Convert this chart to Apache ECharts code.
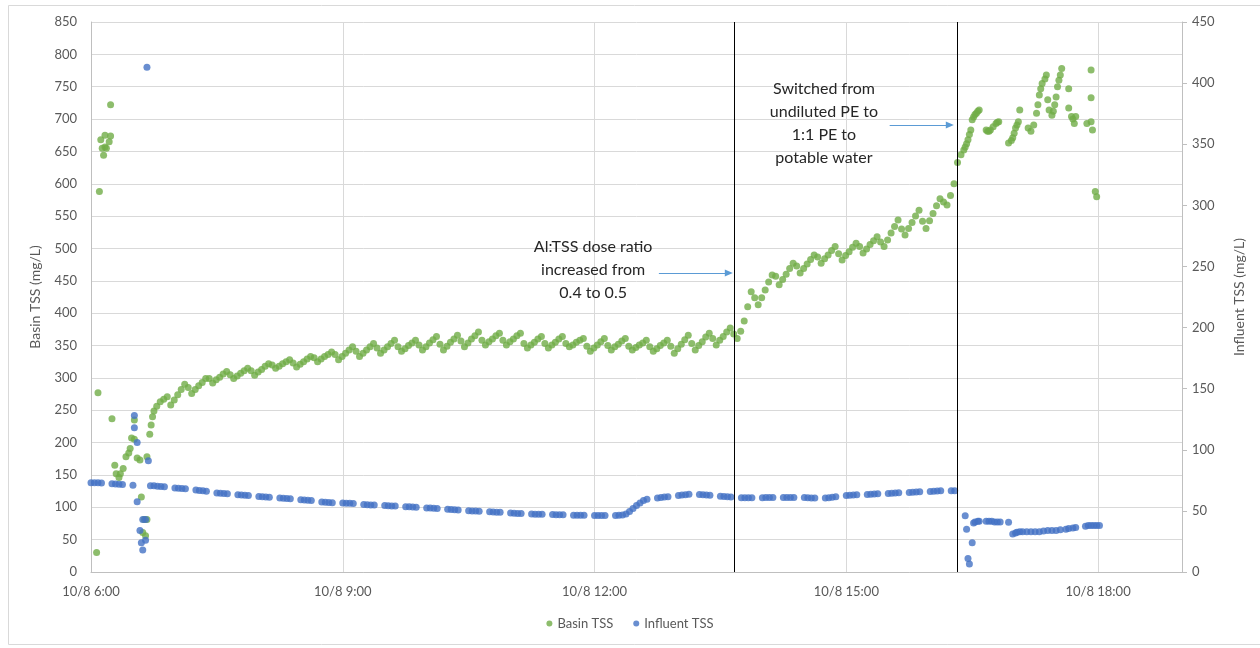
<!DOCTYPE html>
<html>
<head>
<meta charset="utf-8">
<script src="https://cdn.jsdelivr.net/npm/echarts@6/dist/echarts.min.js"></script>
<style>
  html, body { margin: 0; padding: 0; background: #ffffff; }
  #chart { width: 1260px; height: 648px; }
</style>
</head>
<body>
<div id="chart"></div>
<script>
// Logger readings are taken every 2.5 minutes; null marks a missed reading.
const logStepMinutes = 2.5;

// Basin TSS (mg/L), start-up readings that do not follow the regular log.
const basinStartup = [
  ['6:04', 30], ['6:05', 277], ['6:06', 588], ['6:07', 668], ['6:08', 655], ['6:09', 644],
  ['6:10', 657], ['6:10', 675], ['6:11', 655], ['6:13', 665], ['6:14', 674], ['6:14', 722],
  ['6:15', 237], ['6:17', 165], ['6:18', 152], ['6:20', 146], ['6:21', 152], ['6:23', 160],
  ['6:25', 178], ['6:27', 184], ['6:28', 191], ['6:29', 207], ['6:31', 205], ['6:31', 235],
  ['6:33', 176], ['6:35', 173], ['6:36', 116], ['6:37', 61], ['6:38', 81], ['6:39', 56],
  ['6:40', 81], ['6:40', 178], ['6:42', 213], ['6:43', 227], ['6:44', 240], ['6:45', 249]
];

// Basin TSS (mg/L), regular log from 6:47 to 16:19:30, one row per 15-minute cycle.
const basinLogStart = '6:47';
const basinLog = [
  256, 263, 267,
  271, 258, 266, 274, 282, 290,
  285, 276, 282, 288, 293, 299,
  299, 292, 297, 301, 306, 310,
  305, 299, 303, 307, 311, 315,
  311, 304, 309, 313, 318, 322,
  320, 315, 318, 322, 325, 328,
  323, 317, 321, 325, 329, 333,
  331, 325, 329, 333, 336, 340,
  336, 328, 333, 338, 343, 348,
  341, 333, 338, 343, 348, 353,
  346, 338, 343, 348, 353, 358,
  348, 341, 345, 350, 354, 358,
  351, 343, 348, 354, 359, 364,
  352, 343, 349, 355, 360, 366,
  357, 348, 354, 360, 365, 371,
  358, 351, 356, 360, 365, 369,
  358, 351, 356, 360, 365, 369,
  353, 346, 351, 355, 360, 364,
  353, 346, 351, 355, 360, 364,
  353, 348, 351, 355, 358, 361,
  349, 341, 346, 351, 356, 361,
  350, 343, 348, 352, 357, 361,
  349, 343, 347, 351, 354, 358,
  348, 341, 345, 350, 354, 358,
  349, 338, 345, 352, 359, 366,
  353, 343, 350, 356, 363, 369,
  361, 351, 358, 364, 371, 377,
  368, 361, 372, 388, 410, 433,
  424, 413, 424, 436, 448, 459,
  457, 444, 452, 460, 469, 477,
  473, 462, 469, 476, 483, 490,
  487, 477, 484, 490, 497, 503,
  492, 482, 489, 495, 502, 508,
  503, 493, 499, 506, 512, 518,
  510, 503, 513, 524, 534, 544,
  530, 521, 531, 540, 550, 559,
  542, 531, 543, 554, 566, 577,
  572, 567, 582, 600, 633
];

// Basin TSS (mg/L) after the switch to 1:1 PE and potable water.
const basinLate = [
  ['16:22', 645], ['16:24', 652], ['16:25', 657], ['16:26', 662], ['16:27', 668], ['16:28', 676],
  ['16:29', 683], ['16:30', 699], ['16:31', 703], ['16:32', 707], ['16:33', 709], ['16:34', 712], ['16:35', 714],
  ['16:40', 683], ['16:41', 681], ['16:42', 681], ['16:43', 683], ['16:45', 688], ['16:47', 693], ['16:48', 695], ['16:49', 696],
  ['16:56', 663], ['16:58', 667], ['16:59', 671], ['17:00', 678], ['17:01', 686], ['17:02', 691], ['17:03', 696], ['17:04', 714],
  ['17:10', 686], ['17:12', 681], ['17:14', 691], ['17:16', 709], ['17:17', 722], ['17:18', 737],
  ['17:19', 747], ['17:20', 755], ['17:22', 762], ['17:23', 768],
  ['17:24', 730], ['17:25', 714], ['17:27', 706], ['17:28', 712], ['17:29', 722], ['17:30', 734], ['17:31', 750],
  ['17:32', 760], ['17:33', 768], ['17:34', 778],
  ['17:39', 747], ['17:39', 717], ['17:41', 704], ['17:42', 700], ['17:43', 693], ['17:44', 704],
  ['17:52', 693], ['17:55', 696], ['17:56', 683], ['17:55', 733], ['17:55', 776],
  ['17:58', 588], ['17:59', 580]
];

// Influent TSS (mg/L), regular log from 6:00 to 16:17:30, one row per 15-minute cycle.
const influentLogStart = '6:00';
const influentLog = [
  73, 73, 73, 72.8, null, null,
  72.2, 72, 71.8, 71.5, null, null,
  71, null, null, null, null, 70.5,
  70.5, 70.2, 70, 69.8, null, null,
  68.8, 68.6, 68.4, 68.2, null, null,
  67, 66.7, 66.4, 66, null, null,
  64.6, 64.4, 64.2, 64, null, null,
  63.2, 63, 62.8, 62.5, null, null,
  61.8, 61.6, 61.4, 61.2, null, null,
  60.6, 60.4, 60.2, 60, null, null,
  59.2, 59, 58.8, 58.4, null, null,
  57.2, 57, 56.8, 56.7, null, null,
  56.4, 56.3, 56.2, 56, null, null,
  55.3, 55.1, 54.9, 54.8, null, null,
  54.4, 54.3, 54.1, 54, null, null,
  53.4, 53.3, 53.1, 53, null, null,
  52.4, 52.3, 52.1, 52, null, null,
  51.3, 51.1, 50.9, 50.8, null, null,
  50.2, 50, 49.9, 49.8, null, null,
  49.2, 49, 48.9, 48.8, null, null,
  48.2, 48, 47.9, 47.8, null, null,
  47.4, 47.3, 47.2, 47.2, null, null,
  47, 46.9, 46.8, 46.8, null, null,
  46.5, 46.5, 46.4, 46.4, null, null,
  46.2, 46.2, 46.2, 46.2, null, null,
  46.3, 46.4, 46.6, 47.5, 49.5, 52,
  54.5, 56.5, 58.5, 59.5, null, null,
  60.5, 61, 61.3, 61.6, null, null,
  62.5, 63, 63.3, 63.6, null, null,
  63.4, 63.2, 63, 62.8, null, null,
  62, 61.8, 61.6, 61.3, null, null,
  60.8, 60.8, 60.8, 60.8, null, null,
  60.8, 60.9, 61, 61, null, null,
  61, 61, 61, 61, null, null,
  61, 60.8, 60.6, 60.5, null, null,
  60.5, 60.8, 61.2, 61.6, null, null,
  62.5, 62.8, 63, 63.2, null, null,
  63.4, 63.6, 63.8, 64, null, null,
  64.2, 64.4, 64.6, 64.8, null, null,
  65, 65.2, 65.4, 65.6, null, null,
  65.8, 66, 66.2, 66.4, null, null,
  66.5, 66.5
];

// Influent TSS (mg/L), start-up disturbance readings.
const influentStartup = [
  ['6:31', 118], ['6:31', 128], ['6:33', 106], ['6:33', 57.5], ['6:35', 34], ['6:36', 24],
  ['6:37', 18], ['6:37', 43], ['6:39', 43], ['6:39', 26], ['6:40', 413], ['6:41', 91]
];

// Influent TSS (mg/L) after the switch to 1:1 PE and potable water.
const influentLate = [
  ['16:25', 46], ['16:26', 35], ['16:27', 11], ['16:28', 6.5], ['16:30', 24],
  ['16:31', 40], ['16:32', 41], ['16:34', 41.5], ['16:35', 41.5],
  ['16:40', 41.5], ['16:42', 41.5], ['16:44', 41.5], ['16:46', 41], ['16:48', 41], ['16:50', 41],
  ['16:56', 40.7],
  ['16:59', 31], ['17:01', 32], ['17:02', 32.5], ['17:04', 33],
  ['17:06', 33], ['17:09', 33], ['17:12', 33], ['17:15', 33], ['17:18', 33], ['17:21', 33.5],
  ['17:24', 34], ['17:27', 34], ['17:30', 34], ['17:33', 34.5],
  ['17:37', 35], ['17:39', 35.5], ['17:42', 36], ['17:44', 36.5],
  ['17:51', 37.5], ['17:53', 38], ['17:55', 38], ['17:57', 38], ['17:59', 38], ['18:01', 38]
];

// Process changes marked with vertical lines.
const eventTimes = ['13:40', '16:19'];
const doseNote = 'Al:TSS dose ratio\nincreased from\n0.4 to 0.5';
const dilutionNote = 'Switched from\nundiluted PE to\n1:1 PE to\npotable water';

const dateLabel = '10/8';
const seriesNames = ['Basin TSS', 'Influent TSS'];
const axisNames = ['Basin TSS (mg/L)', 'Influent TSS (mg/L)'];

const FONT = 'Lato, "Open Sans", sans-serif';
const GREEN = '#70AD47';
const BLUE = '#4472C4';
const ARROW = '#5B9BD5';
const GRID = '#D9D9D9';
const AXIS = '#BFBFBF';
const LABEL = '#595959';
const DOT = 7;

function toHours(t) {
  const [h, m] = t.split(':').map(Number);
  return h + m / 60;
}
function logPoints(start, values) {
  const t0 = toHours(start);
  return values
    .map((v, i) => [t0 + (i * logStepMinutes) / 60, v])
    .filter(p => p[1] !== null);
}
function pairPoints(list) {
  return list.map(([t, v]) => [toHours(t), v]);
}

const basinData = pairPoints(basinStartup)
  .concat(logPoints(basinLogStart, basinLog))
  .concat(pairPoints(basinLate));
const influentData = logPoints(influentLogStart, influentLog)
  .concat(pairPoints(influentStartup))
  .concat(pairPoints(influentLate));

const chart = echarts.init(document.getElementById('chart'), null, { renderer: 'canvas' });

const arrowLine = (from, to) => [
  { coord: from, symbol: 'none' },
  { coord: to, symbol: 'triangle', symbolSize: [7, 8], lineStyle: { color: ARROW, width: 1, type: 'solid' } }
];

const option = {
  animation: false,
  backgroundColor: '#ffffff',
  textStyle: { fontFamily: FONT },
  graphic: [{
    type: 'rect',
    shape: { x: 8.5, y: 5.5, width: 1262, height: 639 },
    style: { fill: 'none', stroke: GRID, lineWidth: 1 },
    silent: true,
    z: -10
  }],
  grid: { left: 91, right: 78, top: 22, bottom: 76, containLabel: false },
  legend: {
    bottom: 13,
    left: 'center',
    icon: 'circle',
    itemWidth: 6,
    itemHeight: 6,
    itemGap: 20,
    textStyle: { color: LABEL, fontSize: 13, fontFamily: FONT },
    data: seriesNames
  },
  xAxis: {
    type: 'value',
    min: 6,
    max: 19,
    interval: 3,
    axisLine: { show: true, lineStyle: { color: AXIS, width: 1 } },
    axisTick: { show: false },
    splitLine: { show: true, lineStyle: { color: GRID, width: 1 } },
    axisLabel: {
      color: LABEL,
      fontSize: 13,
      fontFamily: FONT,
      margin: 13,
      showMaxLabel: false,
      formatter: v => (Math.abs(v % 3) < 1e-9 ? `${dateLabel} ${v}:00` : '')
    }
  },
  yAxis: [
    {
      type: 'value',
      min: 0,
      max: 850,
      interval: 50,
      name: axisNames[0],
      nameLocation: 'middle',
      nameGap: 49,
      nameRotate: 90,
      nameTextStyle: { color: LABEL, fontSize: 14, fontFamily: FONT },
      axisLine: { show: true, lineStyle: { color: AXIS, width: 1 } },
      axisTick: { show: false },
      splitLine: { show: true, lineStyle: { color: GRID, width: 1 } },
      axisLabel: { color: LABEL, fontSize: 13, fontFamily: FONT, margin: 14 }
    },
    {
      type: 'value',
      min: 0,
      max: 450,
      interval: 50,
      position: 'right',
      name: axisNames[1],
      nameLocation: 'middle',
      nameGap: 50,
      nameRotate: 90,
      nameTextStyle: { color: LABEL, fontSize: 14, fontFamily: FONT },
      axisLine: { show: true, lineStyle: { color: AXIS, width: 1 } },
      axisTick: { show: true, length: 5, inside: false, lineStyle: { color: AXIS } },
      splitLine: { show: false },
      axisLabel: { color: LABEL, fontSize: 13, fontFamily: FONT, margin: 10 }
    }
  ],
  series: [
    {
      name: seriesNames[0],
      type: 'scatter',
      yAxisIndex: 0,
      symbol: 'circle',
      symbolSize: DOT,
      itemStyle: { color: GREEN },
      data: basinData,
      markLine: {
        silent: true,
        symbol: 'none',
        label: { show: false },
        lineStyle: { color: '#000000', width: 1, type: 'solid' },
        data: eventTimes.map(t => ({ xAxis: toHours(t) })).concat([
          arrowLine([toHours('12:46'), 462], [toHours('13:36'), 462]),
          arrowLine([toHours('15:31'), 691], [toHours('16:14'), 691])
        ])
      },
      markPoint: {
        silent: true,
        symbol: 'circle',
        symbolSize: 1,
        itemStyle: { color: 'rgba(0,0,0,0)' },
        label: {
          show: true,
          position: 'inside',
          align: 'center',
          verticalAlign: 'middle',
          color: '#262626',
          fontSize: 16,
          lineHeight: 23,
          fontFamily: FONT
        },
        data: [
          { coord: [toHours('11:59'), 467], value: 0, label: { formatter: doseNote } },
          { coord: [toHours('14:44'), 693], value: 0, label: { formatter: dilutionNote } }
        ]
      }
    },
    {
      name: seriesNames[1],
      type: 'scatter',
      yAxisIndex: 1,
      symbol: 'circle',
      symbolSize: DOT,
      itemStyle: { color: BLUE },
      data: influentData
    }
  ]
};

chart.setOption(option);
</script>
</body>
</html>
